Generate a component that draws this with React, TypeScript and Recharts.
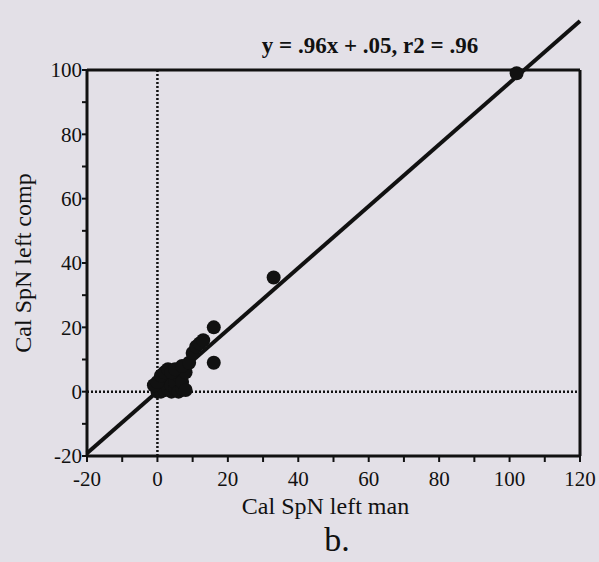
import React from "react";
import {
  ScatterChart, Scatter, XAxis, YAxis, ReferenceLine, Label
} from "recharts";

// manual (x) vs computed (y) values
const manValues = [
  0, 0.5, 1, 1, 2, 2, 3, 3, 4, 4, 5, 5, 6, 6, 7, 7, 8, 8, -1, 0, 1, 2, 3, 4, 5, 7,
  9, 10, 11, 12, 13, 16, 16, 33, 102,
];
const compValues = [
  0, 1, 0, 2, 0.5, 3, 1, 4, 0, 2, 1, 3, 0, 5, 1, 3, 0.5, 6, 2, 3, 5, 6, 7, 6, 7, 8,
  9, 12, 14, 15, 16, 20, 9, 35.5, 99,
];

const slope = 0.96;
const intercept = 0.05;
const fitRange = [-20, 120];

const xTicks = [-20, -10, 0, 10, 20, 30, 40, 50, 60, 70, 80, 90, 100, 110, 120];
const yTicks = [-20, -10, 0, 10, 20, 30, 40, 50, 60, 70, 80, 90, 100];

const points = manValues.map((x, i) => ({ x, y: compValues[i] }));
const fitSegment = fitRange.map((x) => ({ x, y: slope * x + intercept }));

const ink = "#111111";
const font = "'Liberation Serif', 'Times New Roman', serif";
const every20 = (v: number) => (v % 20 === 0 ? String(v) : "");

const Dot = (props: any) => (
  <circle cx={props.cx} cy={props.cy} r={7} fill={ink} />
);

export default function App() {
  return (
    <div
      style={{
        position: "absolute",
        left: 0,
        top: 0,
        width: 599,
        height: 562,
        overflow: "hidden",
        background: "#e3e0e7",
        fontFamily: font,
        color: ink,
      }}
    >
      <div
        style={{
          position: "absolute",
          left: 230,
          width: 280,
          top: 34,
          textAlign: "center",
          fontSize: 23,
          lineHeight: 1,
          fontWeight: "bold",
          whiteSpace: "nowrap",
        }}
      >
        y = .96x + .05, r2 = .96
      </div>
      <ScatterChart
        width={599}
        height={562}
        margin={{ top: 40, right: 9, bottom: 36, left: 0 }}
      >
        <XAxis
          type="number"
          dataKey="x"
          domain={[-20, 120]}
          ticks={xTicks}
          interval={0}
          tickFormatter={every20}
          height={70}
          tickSize={6}
          tickMargin={9}
          axisLine={{ stroke: ink, strokeWidth: 3 }}
          tickLine={{ stroke: ink, strokeWidth: 2 }}
          tick={{ fill: ink, fontSize: 21, fontFamily: font }}
        >
          <Label
            value="Cal SpN left man"
            position="insideTop"
            offset={41}
            dx={-8}
            style={{ fill: ink, fontSize: 24, fontFamily: font }}
          />
        </XAxis>
        <XAxis
          xAxisId="top"
          orientation="top"
          type="number"
          dataKey="x"
          domain={[-20, 120]}
          ticks={xTicks}
          interval={0}
          height={30}
          tickSize={6}
          tick={false}
          axisLine={{ stroke: ink, strokeWidth: 3 }}
          tickLine={{ stroke: ink, strokeWidth: 2 }}
        />
        <YAxis
          type="number"
          dataKey="y"
          domain={[-20, 100]}
          ticks={yTicks}
          interval={0}
          tickFormatter={every20}
          width={87}
          tickSize={5}
          tickMargin={0}
          axisLine={{ stroke: ink, strokeWidth: 3 }}
          tickLine={{ stroke: ink, strokeWidth: 2 }}
          tick={{ fill: ink, fontSize: 21, fontFamily: font }}
        >
          <Label
            value="Cal SpN left comp"
            angle={-90}
            position="insideLeft"
            offset={22}
            style={{ fill: ink, fontSize: 24, fontFamily: font, textAnchor: "middle" }}
          />
        </YAxis>
        <YAxis
          yAxisId="right"
          orientation="right"
          type="number"
          dataKey="y"
          domain={[-20, 100]}
          ticks={yTicks}
          interval={0}
          width={10}
          tickSize={6}
          tick={false}
          axisLine={{ stroke: ink, strokeWidth: 3 }}
          tickLine={{ stroke: ink, strokeWidth: 2 }}
        />
        <ReferenceLine x={0} stroke={ink} strokeWidth={2.5} strokeDasharray="2 2" />
        <ReferenceLine y={0} stroke={ink} strokeWidth={2.5} strokeDasharray="2 2" />
        <ReferenceLine
          segment={fitSegment}
          stroke={ink}
          strokeWidth={4}
          ifOverflow="visible"
        />
        <Scatter
          data={points}
          fill={ink}
          shape={Dot}
          isAnimationActive={false}
        />
        <Scatter
          data={points}
          xAxisId="top"
          yAxisId="right"
          shape={() => <g />}
          isAnimationActive={false}
        />
      </ScatterChart>
      <div
        style={{
          position: "absolute",
          left: 287,
          width: 100,
          top: 523,
          textAlign: "center",
          fontSize: 34,
          lineHeight: 1,
        }}
      >
        b.
      </div>
    </div>
  );
}
